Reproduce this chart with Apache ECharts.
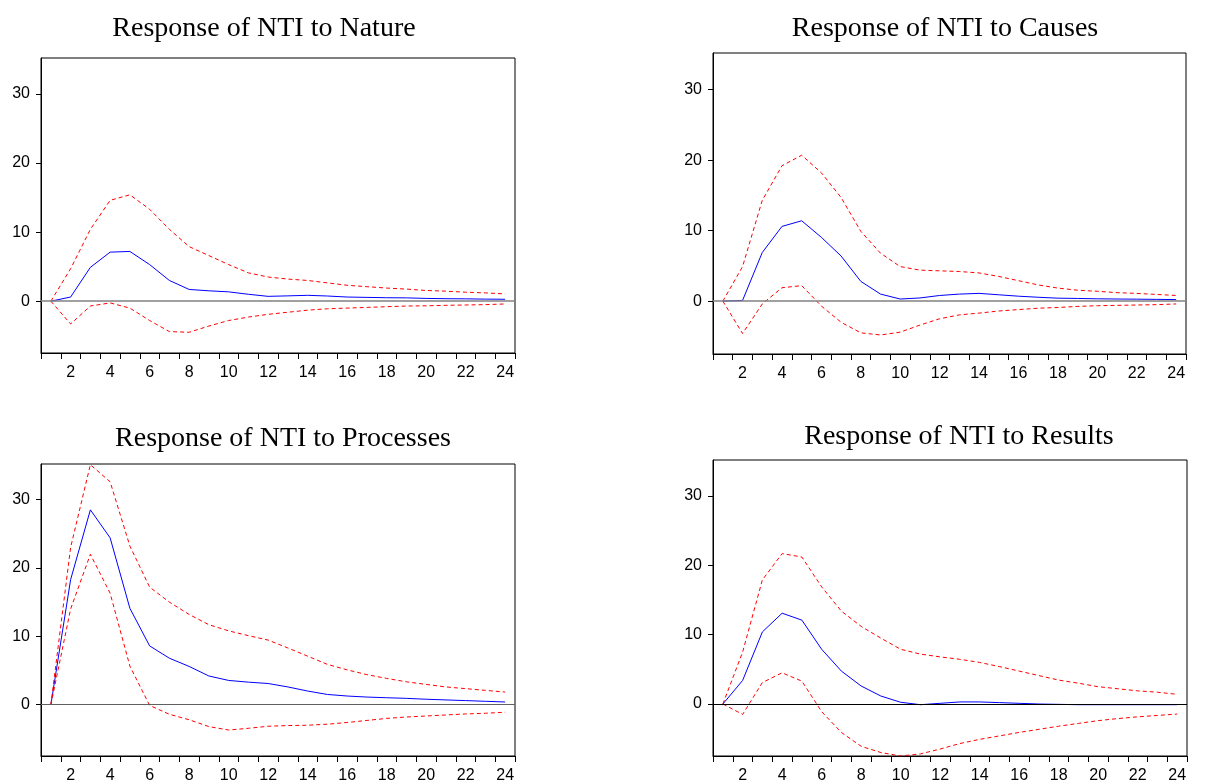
<!DOCTYPE html>
<html>
<head>
<meta charset="utf-8" />
<style>
  html, body { margin: 0; padding: 0; background: #fff; }
  #main { width: 1205px; height: 784px; }
</style>
</head>
<body>
<div id="main"></div>
<script src="https://cdn.jsdelivr.net/npm/echarts@6.0.0/dist/echarts.min.js"></script>
<script>
// periods 1..24
const periods = ['1','2','3','4','5','6','7','8','9','10','11','12','13','14','15','16','17','18','19','20','21','22','23','24'];
const yTicks = [0, 10, 20, 30];

const titles = [
  'Response of NTI to Nature',
  'Response of NTI to Causes',
  'Response of NTI to Processes',
  'Response of NTI to Results'
];

// Nature
const natureIrf   = [0, 0.6, 4.9, 7.1, 7.2, 5.3, 3.0, 1.7, 1.5, 1.35, 1.0, 0.7, 0.77, 0.85, 0.75, 0.6, 0.55, 0.5, 0.48, 0.4, 0.36, 0.34, 0.3, 0.28];
const natureUpper = [0, 4.7, 10.4, 14.6, 15.4, 13.3, 10.4, 7.9, 6.6, 5.3, 4.1, 3.5, 3.2, 3.0, 2.65, 2.3, 2.1, 1.9, 1.75, 1.55, 1.45, 1.3, 1.2, 1.05];
const natureLower = [0, -3.3, -0.7, -0.25, -1.0, -2.8, -4.4, -4.5, -3.6, -2.8, -2.3, -1.9, -1.6, -1.3, -1.1, -1.0, -0.9, -0.8, -0.7, -0.67, -0.6, -0.55, -0.5, -0.4];

// Causes
const causesIrf   = [0, 0.1, 6.9, 10.6, 11.4, 9.05, 6.4, 2.8, 1.0, 0.3, 0.45, 0.8, 1.0, 1.1, 0.9, 0.7, 0.55, 0.42, 0.38, 0.33, 0.3, 0.28, 0.25, 0.22];
const causesUpper = [0, 4.9, 14.3, 19.2, 20.7, 18.2, 14.7, 9.9, 6.8, 4.9, 4.4, 4.3, 4.2, 4.0, 3.5, 2.9, 2.3, 1.85, 1.55, 1.4, 1.2, 1.1, 0.95, 0.8];
const causesLower = [0, -4.6, -0.4, 1.9, 2.2, -0.7, -3.0, -4.5, -4.8, -4.4, -3.4, -2.5, -1.95, -1.7, -1.4, -1.2, -1.0, -0.9, -0.75, -0.65, -0.6, -0.55, -0.5, -0.4];

// Processes
const processIrf   = [0, 18.3, 28.5, 24.4, 14.1, 8.6, 6.8, 5.6, 4.2, 3.55, 3.3, 3.1, 2.6, 2.0, 1.5, 1.27, 1.12, 1.02, 0.93, 0.8, 0.7, 0.6, 0.5, 0.4];
const processUpper = [0, 23.0, 35.1, 32.6, 23.2, 17.2, 15.0, 13.2, 11.7, 10.8, 10.1, 9.45, 8.3, 7.1, 5.9, 5.1, 4.4, 3.85, 3.35, 2.97, 2.6, 2.35, 2.1, 1.85];
const processLower = [0, 14.0, 22.0, 16.3, 5.65, -0.1, -1.4, -2.2, -3.2, -3.7, -3.45, -3.15, -3.05, -3.0, -2.85, -2.6, -2.3, -2.0, -1.8, -1.65, -1.5, -1.35, -1.25, -1.1];

// Results
const resultsIrf   = [0, 3.4, 10.4, 13.1, 12.1, 7.9, 4.75, 2.6, 1.15, 0.25, -0.1, 0.1, 0.3, 0.3, 0.2, 0.1, 0.0, -0.05, -0.1, -0.1, -0.1, -0.1, -0.1, -0.1];
const resultsUpper = [0, 7.5, 17.9, 21.7, 21.2, 16.9, 13.4, 11.2, 9.5, 7.9, 7.2, 6.8, 6.45, 6.0, 5.4, 4.75, 4.1, 3.45, 3.0, 2.5, 2.2, 1.9, 1.7, 1.4];
const resultsLower = [0, -1.5, 3.1, 4.5, 3.3, -1.1, -4.1, -6.1, -7.0, -7.5, -7.2, -6.5, -5.7, -5.1, -4.6, -4.1, -3.65, -3.2, -2.8, -2.4, -2.1, -1.85, -1.65, -1.45];

const panels = [
  { irf: natureIrf,  upper: natureUpper,  lower: natureLower,  grid: { left: 41,  top: 58,  width: 474, height: 295 }, titleX: 259, titleY: 10,  zeroColor: '#808080', zeroWidth: 1.5 },
  { irf: causesIrf,  upper: causesUpper,  lower: causesLower,  grid: { left: 713, top: 53,  width: 473, height: 301 }, titleX: 940, titleY: 10,  zeroColor: '#808080', zeroWidth: 1.5 },
  { irf: processIrf, upper: processUpper, lower: processLower, grid: { left: 41,  top: 464, width: 474, height: 292 }, titleX: 278, titleY: 420, zeroColor: '#606060', zeroWidth: 1.2 },
  { irf: resultsIrf, upper: resultsUpper, lower: resultsLower, grid: { left: 713, top: 460, width: 474, height: 296 }, titleX: 954, titleY: 418, zeroColor: '#000000', zeroWidth: 1 }
];

const sans = 'Liberation Sans, Arial, sans-serif';
const serif = 'Liberation Serif, Times New Roman, serif';

const option = {
  animation: false,
  backgroundColor: '#fff',
  title: [],
  grid: [],
  xAxis: [],
  yAxis: [],
  series: []
};

panels.forEach((p, i) => {
  option.title.push({
    text: titles[i],
    left: p.titleX,
    top: p.titleY,
    textAlign: 'center',
    textStyle: { fontFamily: serif, fontSize: 28, fontWeight: 'normal', color: '#000' }
  });
  option.grid.push(Object.assign({ show: true, borderColor: '#000', borderWidth: 1, backgroundColor: 'transparent' }, p.grid));
  option.xAxis.push({
    type: 'category',
    gridIndex: i,
    data: periods,
    boundaryGap: true,
    axisLine: { show: true, onZero: false, lineStyle: { color: '#000', width: 1 } },
    axisTick: { show: true, interval: 0, length: 6, lineStyle: { color: '#000' } },
    axisLabel: {
      interval: (idx) => idx % 2 === 1,
      color: '#000', fontFamily: sans, fontSize: 16, margin: 12
    },
    splitLine: { show: false }
  });
  option.yAxis.push({
    type: 'value',
    gridIndex: i,
    min: -7.5,
    max: 35.2,
    axisLine: { show: true, lineStyle: { color: '#000', width: 1 } },
    axisTick: { show: true, length: 5, customValues: yTicks, lineStyle: { color: '#000' } },
    axisLabel: { customValues: yTicks, color: '#000', fontFamily: sans, fontSize: 16, margin: 11 },
    splitLine: { show: false }
  });
  option.series.push({
    type: 'line',
    xAxisIndex: i, yAxisIndex: i,
    data: p.irf,
    symbol: 'none',
    lineStyle: { color: '#0000ff', width: 1 },
    z: 3,
    markLine: {
      silent: true,
      symbol: 'none',
      label: { show: false },
      lineStyle: { color: p.zeroColor, width: p.zeroWidth, type: 'solid' },
      data: [{ yAxis: 0 }]
    }
  });
  [p.upper, p.lower].forEach((band) => {
    option.series.push({
      type: 'line',
      xAxisIndex: i, yAxisIndex: i,
      data: band,
      symbol: 'none',
      lineStyle: { color: '#ff0000', width: 1, type: [4, 3] },
      z: 4
    });
  });
});

const chart = echarts.init(document.getElementById('main'));
chart.setOption(option);
</script>
</body>
</html>
